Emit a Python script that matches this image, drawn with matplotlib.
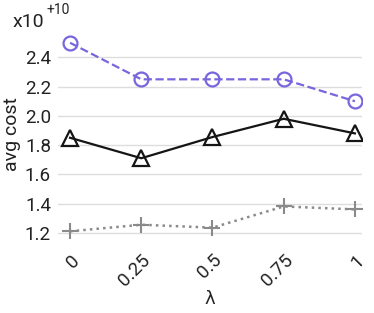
import matplotlib
matplotlib.use("Agg")
import matplotlib.pyplot as plt

lambdas = ['0', '0.25', '0.5', '0.75', '1']
circle_cost = [2.50, 2.25, 2.25, 2.25, 2.10]
triangle_cost = [1.85, 1.71, 1.855, 1.98, 1.88]
plus_cost = [1.21, 1.255, 1.235, 1.38, 1.36]
yticks = [1.2, 1.4, 1.6, 1.8, 2.0, 2.2, 2.4]

plt.rcParams['font.family'] = ['Roboto', 'DejaVu Sans']

fig = plt.figure(figsize=(3.74, 3.13), dpi=100)
ax = fig.add_axes([0.155, 0.233, 0.813, 0.677])

x = range(len(lambdas))
ax.plot(x, circle_cost, color='#7766dd', linestyle='--', linewidth=1.6,
        marker='o', markersize=10, markerfacecolor='none', markeredgewidth=1.6, zorder=3)
ax.plot(x, triangle_cost, color='#151515', linestyle='-', linewidth=1.6,
        marker='^', markersize=11, markerfacecolor='none', markeredgewidth=1.6, zorder=3)
ax.plot(x, plus_cost, color='#8a8a8a', linestyle=':', linewidth=1.8,
        marker='+', markersize=12, markeredgewidth=1.5, zorder=3)

ax.set_xlim(-0.17, 4.1)
ax.set_ylim(1.15, 2.6)
ax.set_yticks(yticks)
ax.set_yticklabels([f'{v:.1f}' for v in yticks], fontsize=13.5, color='#222222')
ax.set_xticks(list(x))
ax.set_xticklabels(lambdas, rotation=45, fontsize=13.5, ha='right', rotation_mode='anchor',
                   color='#222222')
ax.tick_params(length=0, pad=5)
ax.tick_params(axis='x', pad=8)
ax.grid(axis='y', color='#dddddd', linewidth=1)
ax.set_axisbelow(True)
for s in ax.spines.values():
    s.set_visible(False)

ax.set_ylabel('avg cost', fontsize=14, labelpad=3, color='#222222')
ax.set_xlabel('λ', fontsize=13, family='DejaVu Sans', labelpad=0, color='#222222')

fig.text(0.035, 0.9, 'x10', fontsize=14, va='bottom', color='#222222')
fig.text(0.125, 0.945, '+10', fontsize=10, va='bottom', color='#222222')

fig.savefig('out.png', dpi=100)
